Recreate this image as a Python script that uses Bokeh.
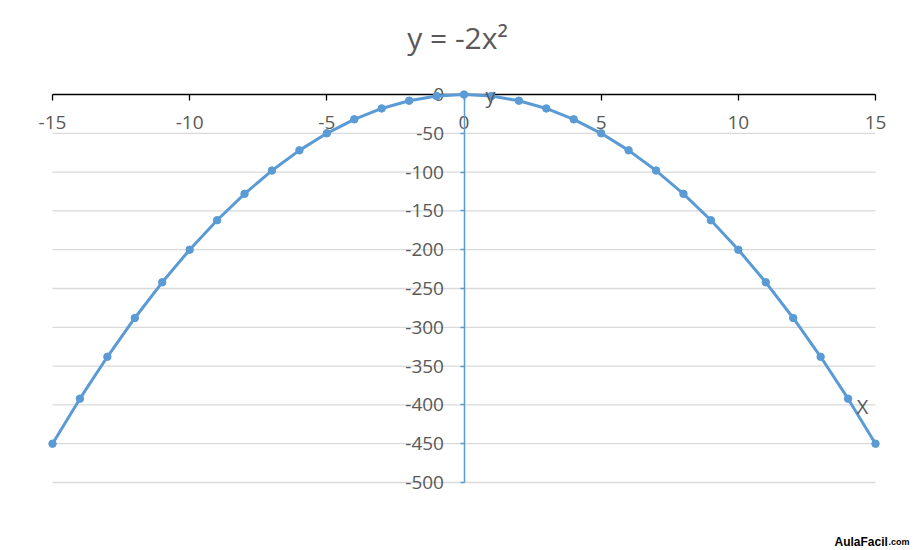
from bokeh.plotting import figure
from bokeh.models import LinearAxis, FixedTicker, Range1d, Label, ColumnDataSource
from bokeh.embed import file_html
from bokeh.resources import INLINE

# ---- data ----
x_values = [-15, -14, -13, -12, -11, -10, -9, -8, -7, -6, -5, -4, -3, -2, -1, 0,
            1, 2, 3, 4, 5, 6, 7, 8, 9, 10, 11, 12, 13, 14, 15]
y_values = [-450, -392, -338, -288, -242, -200, -162, -128, -98, -72, -50, -32, -18, -8, -2, 0,
            -2, -8, -18, -32, -50, -72, -98, -128, -162, -200, -242, -288, -338, -392, -450]
x_ticks = [-15, -10, -5, 0, 5, 10, 15]
y_ticks = [0, -50, -100, -150, -200, -250, -300, -350, -400, -450, -500]
title_text = "y = -2x²"
x_axis_name = "X"
y_axis_name = "y"
watermark_main = "AulaFacil"
watermark_tail = ".com"

# ---- styling / layout ----
FONT = "Open Sans"
TEXT = "#595959"
BLUE = "#5B9BD5"
GRID = "#D9D9D9"

W, H = 914, 550
TOP = 70                       # frame top (title panel above)
PX_LEFT, PX_RIGHT = 52, 875    # pixel span of x ticks
PX_TOP, PX_BOT = 94, 482       # pixel span of y ticks

X_MIN, X_MAX = min(x_ticks), max(x_ticks)
Y_MIN, Y_MAX = min(y_ticks), max(y_ticks)
px_x = (PX_RIGHT - PX_LEFT) / (X_MAX - X_MIN)
px_y = (PX_BOT - PX_TOP) / (Y_MAX - Y_MIN)

x_start = X_MIN - PX_LEFT / px_x
x_end = X_MAX + (W - PX_RIGHT) / px_x
y_end = Y_MAX + (PX_TOP - TOP) / px_y
y_start = Y_MIN - (H - PX_BOT) / px_y

def sx(px):
    return x_start + px / px_x

def sy(py):
    return y_end - (py - TOP) / px_y

p = figure(width=W, height=H,
           x_range=Range1d(x_start, x_end),
           y_range=Range1d(y_start, y_end),
           x_axis_location=None, y_axis_location=None,
           output_backend="svg", toolbar_location=None,
           min_border_left=0, min_border_right=0,
           min_border_top=TOP, min_border_bottom=0)
p.grid.visible = False
p.outline_line_color = None
p.background_fill_color = "white"
p.border_fill_color = "white"

# title
p.title.text = title_text
p.title.align = "center"
p.title.text_font = FONT
p.title.text_font_size = "30px"
p.title.text_font_style = "normal"
p.title.text_color = TEXT
p.title.standoff = 26

# horizontal gridlines
grid_src = ColumnDataSource(dict(y=[t for t in y_ticks if t != 0]))
p.segment(x0=X_MIN, x1=X_MAX, y0="y", y1="y", source=grid_src,
          line_color=GRID, line_width=1.3, level="image")

# x axis crossing at y = 0
xaxis = LinearAxis(fixed_location=0, ticker=FixedTicker(ticks=x_ticks), bounds=(X_MIN, X_MAX))
xaxis.major_label_overrides = {t: str(t) for t in x_ticks}
xaxis.axis_line_color = "black"
xaxis.axis_line_width = 1.3
xaxis.major_tick_line_color = "black"
xaxis.major_tick_line_width = 1.3
xaxis.major_tick_out = 6
xaxis.major_tick_in = 0
xaxis.minor_tick_line_color = None
xaxis.major_label_text_font = FONT
xaxis.major_label_text_font_size = "19px"
xaxis.major_label_text_color = TEXT
xaxis.major_label_standoff = 15
xaxis.level = "underlay"
p.add_layout(xaxis, "below")

# y axis crossing at x = 0
yaxis = LinearAxis(fixed_location=0, ticker=FixedTicker(ticks=y_ticks), bounds=(Y_MIN, Y_MAX))
yaxis.major_label_overrides = {t: str(t) for t in y_ticks}
yaxis.axis_line_color = BLUE
yaxis.axis_line_width = 1.5
yaxis.major_tick_line_color = BLUE
yaxis.major_tick_line_width = 1.5
yaxis.major_tick_out = 4
yaxis.major_tick_in = 0
yaxis.minor_tick_line_color = None
yaxis.major_label_text_font = FONT
yaxis.major_label_text_font_size = "19px"
yaxis.major_label_text_color = TEXT
yaxis.major_label_standoff = 16
yaxis.level = "underlay"
p.add_layout(yaxis, "left")

# series
src = ColumnDataSource(dict(x=x_values, y=y_values))
p.line("x", "y", source=src, line_color=BLUE, line_width=3)
p.scatter("x", "y", source=src, size=7.5, fill_color=BLUE, line_color=BLUE)

# axis names
p.add_layout(Label(x=sx(490), y=sy(95), text=y_axis_name, text_font=FONT,
                   text_font_size="20px", text_color=TEXT,
                   text_align="center", text_baseline="middle"))
p.add_layout(Label(x=sx(862), y=sy(406), text=x_axis_name, text_font=FONT,
                   text_font_size="20px", text_color=TEXT,
                   text_align="center", text_baseline="middle"))

# watermark
p.add_layout(Label(x=sx(834), y=sy(541), text=watermark_main,
                   text_font="Liberation Sans", text_font_size="12px",
                   text_font_style="bold", text_color="black",
                   text_align="left", text_baseline="alphabetic"))
p.add_layout(Label(x=sx(888), y=sy(541), text=watermark_tail,
                   text_font="Liberation Sans", text_font_size="9px",
                   text_font_style="bold", text_color="black",
                   text_align="left", text_baseline="alphabetic"))

open("out.html", "w").write(file_html(p, INLINE))
